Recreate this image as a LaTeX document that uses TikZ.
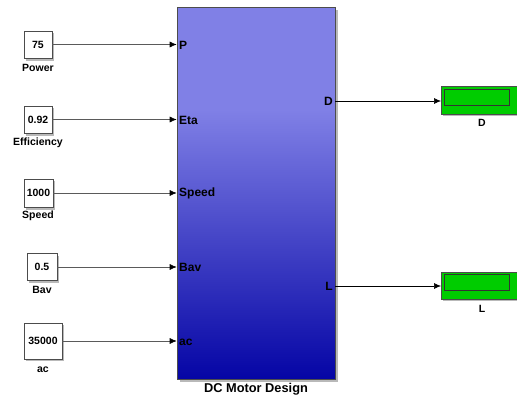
\documentclass[tikz,border=0pt]{standalone}
\usepackage{fontspec}
\setmainfont{Liberation Sans}
\usetikzlibrary{arrows.meta}
\definecolor{blocktop}{RGB}{128,128,230}
\definecolor{blockbot}{RGB}{5,5,165}
\definecolor{dispgreen}{RGB}{0,204,0}
\definecolor{shadowgray}{RGB}{185,185,185}
\definecolor{linegray}{RGB}{90,90,90}
\tikzset{
  constblk/.style={draw=black!70, fill=white, line width=0.6pt, minimum height=26pt, inner sep=1pt,
     font=\fontsize{10.5}{11}\selectfont\bfseries},
  blklabel/.style={font=\fontsize{10.5}{11}\selectfont\bfseries, inner sep=0pt},
  portlabel/.style={font=\fontsize{12}{13}\selectfont\bfseries, inner sep=0pt},
  inline/.style={draw=linegray, line width=0.6pt, -{Latex[length=7pt,width=6pt,color=black]}},
  outline/.style={draw=black, line width=0.6pt, -{Latex[length=7pt,width=6pt]}},
  dispblk/.style={draw=black!70, fill=dispgreen, line width=0.6pt},
}
\begin{document}
\begin{tikzpicture}[x=1pt,y=-1pt]
\useasboundingbox (0,0) rectangle (517,398);
% main block shadow and shading
\fill[shadowgray] (180,10) rectangle (338,382);
\fill[blocktop] (177,7) rectangle (335,110);
\shade[top color=blocktop, bottom color=blockbot] (177,109.5) rectangle (335,379);
\node[draw=black!70, line width=0.6pt, minimum width=158pt, minimum height=372pt, inner sep=0pt] (main) at (256,193) {};
\node[font=\fontsize{12.8}{14}\selectfont\bfseries, inner sep=0pt] (title) at (256,389) {DC Motor Design};

% constant blocks
\fill[shadowgray] (26,33) rectangle (54,61);
\node[constblk, minimum width=28pt, minimum height=27pt] (c1) at (38,44.5) {75};
\node[blklabel] (l1) at (38,68) {Power};
\fill[shadowgray] (26,108) rectangle (54,136);
\node[constblk, minimum width=28pt, minimum height=27pt] (c2) at (38,119.5) {0.92};
\node[blklabel] (l2) at (38,143) {Efficiency};
\fill[shadowgray] (26,181) rectangle (55,210);
\node[constblk, minimum width=29pt, minimum height=28pt] (c3) at (38.5,193) {1000};
\node[blklabel] (l3) at (38,216) {Speed};
\fill[shadowgray] (29,256) rectangle (59,283);
\node[constblk, minimum width=30pt, minimum height=27pt] (c4) at (42,267) {0.5};
\node[blklabel] (l4) at (42,290) {Bav};
\fill[shadowgray] (26,325) rectangle (64,361);
\node[constblk, minimum width=38pt, minimum height=36pt] (c5) at (43,341) {35000};
\node[blklabel] (l5) at (43,370) {ac};

% input ports
\node[portlabel, anchor=west] (pP) at (179,45) {P};
\node[portlabel, anchor=west] (pEta) at (179,120) {Eta};
\node[portlabel, anchor=west] (pSpeed) at (179,193) {Speed};
\node[portlabel, anchor=west] (pBav) at (179,267) {Bav};
\node[portlabel, anchor=west] (pac) at (179,342) {ac};
\node[portlabel, anchor=east] (pD) at (333,101) {D};
\node[portlabel, anchor=east] (pL) at (333,286) {L};

\draw[inline] (c1.east) -- (c1.east -| main.west);
\draw[inline] (c2.east) -- (c2.east -| main.west);
\draw[inline] (c3.east) -- (c3.east -| main.west);
\draw[inline] (c4.east) -- (c4.east -| main.west);
\draw[inline] (c5.east) -- (c5.east -| main.west);

% display blocks
\fill[shadowgray] (443,88) rectangle (519,116);
\node[dispblk, minimum width=77pt, minimum height=28pt, inner sep=0pt, anchor=west] (dD) at (441,100) {};
\draw[black!80, line width=0.5pt] (444,89.5) rectangle (509,105.5);
\node[blklabel] (lD) at (482,123) {D};
\fill[shadowgray] (443,274) rectangle (519,301);
\node[dispblk, minimum width=77pt, minimum height=27pt, inner sep=0pt, anchor=west] (dL) at (441,285.5) {};
\draw[black!80, line width=0.5pt] (444,274.5) rectangle (509,290.5);
\node[blklabel] (lL) at (482,309) {L};

\draw[outline] (main.east |- pD) -- (dD.west |- pD);
\draw[outline] (main.east |- pL) -- (dL.west |- pL);
\end{tikzpicture}
\end{document}
